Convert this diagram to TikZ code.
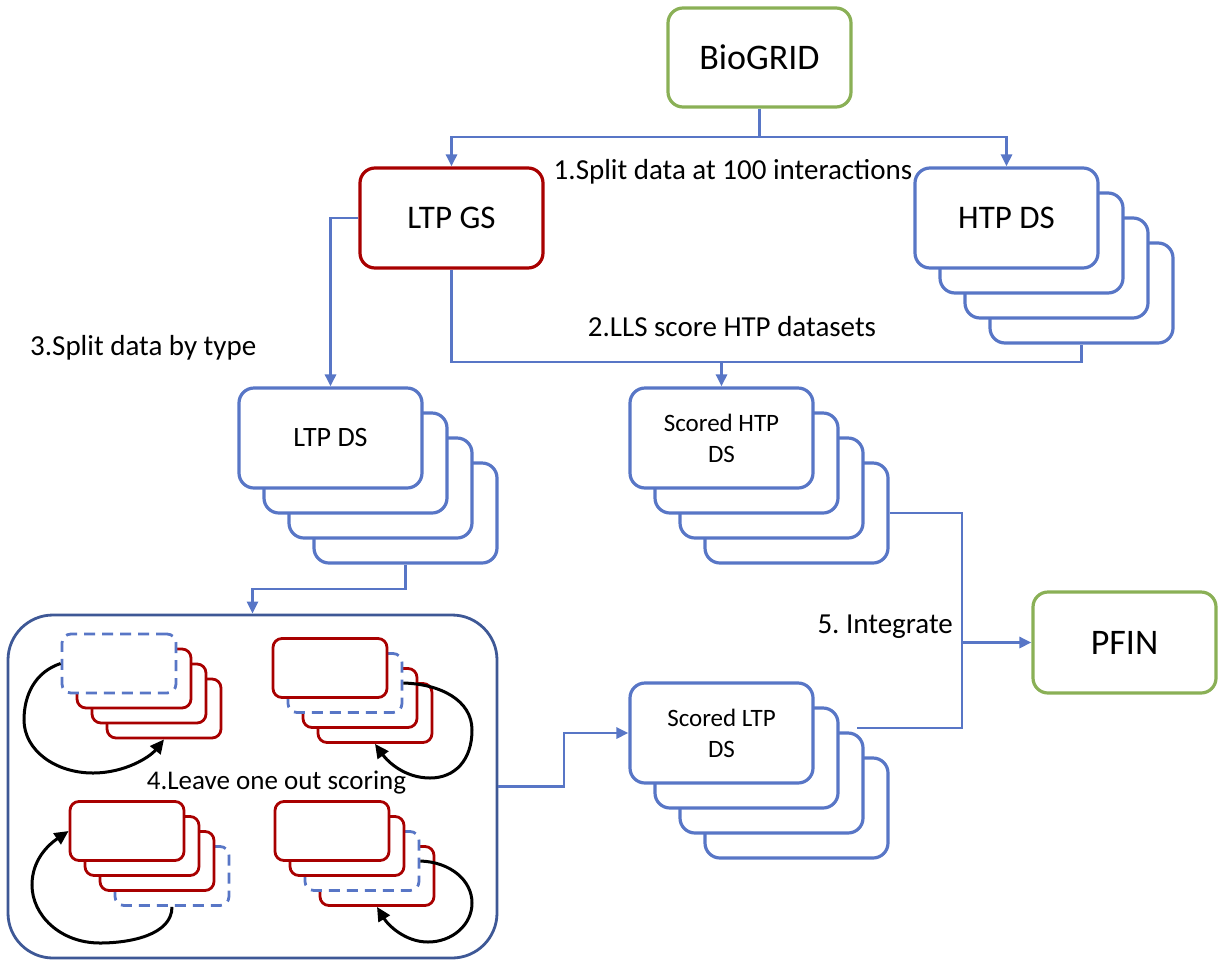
\documentclass[tikz,border=0pt]{standalone}
\usepackage{fontspec}
\setmainfont{Carlito}
\usetikzlibrary{arrows.meta}
\definecolor{cblue}{RGB}{88,118,198}
\definecolor{cred}{RGB}{168,0,0}
\definecolor{cgreen}{RGB}{138,176,86}
\definecolor{cdark}{RGB}{62,88,150}
\tikzset{
 box/.style={draw, line width=3.2pt, rounded corners=15pt, fill=white, minimum width=183pt, minimum height=100pt, inner sep=0pt, align=center},
 bluebox/.style={box, draw=cblue},
 redbox/.style={box, draw=cred},
 greenbox/.style={box, draw=cgreen},
 mini/.style={draw, line width=2.8pt, rounded corners=9pt, fill=white, minimum width=114pt, minimum height=59pt, inner sep=0pt},
 minired/.style={mini, draw=cred},
 minidash/.style={mini, draw=cblue, dash pattern=on 11pt off 7pt},
 conn/.style={draw=cblue, line width=2.8pt},
 arr/.style={conn, -{Triangle[length=12pt,width=11pt]}},
 loopar/.style={draw=black, line width=3pt, -{Triangle[length=14pt,width=13pt]}},
 lbl/.style={font=\fontsize{29}{34}\selectfont, inner sep=0pt},
 bigfont/.style={font=\fontsize{33}{38}\selectfont},
 midfont/.style={font=\fontsize{28}{32}\selectfont},
 smallfont/.style={font=\fontsize{25}{31}\selectfont},
}
\begin{document}
\frenchspacing
\begin{tikzpicture}[x=1pt,y=-1pt]
\useasboundingbox (0,0) rectangle (1220,967);
% top nodes
\node[greenbox, minimum height=99pt, font=\fontsize{36}{40}\selectfont] (bio) at (759.5,57.5) {BioGRID};
\node[redbox, bigfont] (ltpgs) at (451.5,218) {LTP GS};
\foreach \i in {3,2,1} \node[bluebox] (htp\i) at (1006.5+25*\i,218+25*\i) {};
\node[bluebox, bigfont] (htp0) at (1006.5,218) {HTP DS};
% LTP DS stack
\foreach \i in {3,2,1} \node[bluebox] (ltpds\i) at (330.5+25*\i,438+25*\i) {};
\node[bluebox, midfont] (ltpds0) at (330.5,438) {LTP DS};
% Scored HTP stack
\foreach \i in {3,2,1} \node[bluebox] (shtp\i) at (721.5+25*\i,438+25*\i) {};
\node[bluebox, smallfont] (shtp0) at (721.5,438) {Scored HTP\\DS};
% Scored LTP stack
\foreach \i in {3,2,1} \node[bluebox] (sltp\i) at (721.5+25*\i,733+25*\i) {};
\node[bluebox, smallfont] (sltp0) at (721.5,733) {Scored LTP\\DS};
% PFIN
\node[greenbox, minimum height=101pt, font=\fontsize{36}{40}\selectfont] (pfin) at (1124.5,642.5) {PFIN};
% leave one out box
\node[draw=cdark, line width=2.8pt, rounded corners=45pt, minimum width=489pt, minimum height=343pt, inner sep=0pt] (loo) at (252.5,786.5) {};
% top-left mini stack
\foreach \i in {3,2,1} \node[minired] (tl\i) at (119+15*\i,663.5+15*\i) {};
\node[minidash] (tl0) at (119,663.5) {};
% top-right mini stack
\node[minired] (tr3) at (375,713) {};
\node[minired] (tr2) at (360,698) {};
\node[minidash] (tr1) at (345,683) {};
\node[minired] (tr0) at (330,668) {};
% bottom-left mini stack
\node[minidash] (bl3) at (172,876) {};
\node[minired] (bl2) at (157,861) {};
\node[minired] (bl1) at (142,846) {};
\node[minired] (bl0) at (127,831) {};
% bottom-right mini stack
\node[minired] (br3) at (377,876) {};
\node[minidash] (br2) at (362,861) {};
\node[minired] (br1) at (347,846) {};
\node[minired] (br0) at (332,831) {};
% loops
\draw[loopar] (tl0.west) .. controls (35,672) and (24,695) .. (24,720) .. controls (24,750) and (55,773) .. (93,773) .. controls (125,773) and (150,757) .. (tl3.south);
\draw[loopar] (tr1.east) .. controls (440,684) and (472,700) .. (472,730) .. controls (472,760) and (455,778) .. (430,778) .. controls (405,778) and (388,762) .. (tr3.south);
\draw[loopar] (bl3.south) .. controls (172,935) and (130,943) .. (100,943) .. controls (60,943) and (32,915) .. (32,885) .. controls (32,860) and (48,845) .. (bl0.west);
\draw[loopar] (br2.east) .. controls (450,862) and (472,880) .. (472,903) .. controls (472,925) and (452,942) .. (428,942) .. controls (405,942) and (388,925) .. (br3.south);
% junction coordinates
\coordinate (j1) at (0,137);
\coordinate (j2) at (0,362);
\coordinate (j3) at (0,589);
\coordinate (j4) at (564,733);
\coordinate (j5) at (962,728);
\coordinate (sltpc) at (857,728);
% connectors
\draw[arr] (bio.south) -- (bio.south |- j1) -| (ltpgs.north);
\draw[arr] (bio.south |- j1) -| (htp0.north);
\draw[conn] (ltpgs.south) -- (ltpgs.south |- j2) -- (htp3.south |- j2) -- (htp3.south);
\draw[arr] (shtp0.north |- j2) -- (shtp0.north);
\draw[arr] (ltpgs.west) -| (ltpds0.north);
\draw[arr] (ltpds3.south) -- (ltpds3.south |- j3) -| (loo.north);
\draw[arr] (loo.east) -| (j4) -- (sltp0.west);
\draw[conn] (shtp3.east) -| (j5) -- (sltpc);
\draw[arr] (j5 |- pfin.west) -- (pfin.west);
% labels
\node[lbl, anchor=base] (l1) at (733,179) {1.Split data at 100 interactions};
\node[lbl, anchor=base] (l2) at (732,336) {2.LLS score HTP datasets};
\node[lbl, anchor=base west] (l3) at (30,355) {3.Split data by type};
\node[lbl, anchor=base, font=\fontsize{27}{32}\selectfont] (l4) at (276.5,789) {4.Leave one out scoring};
\node[lbl, anchor=base east] (l5) at (953,633) {5. Integrate};
\end{tikzpicture}
\end{document}
